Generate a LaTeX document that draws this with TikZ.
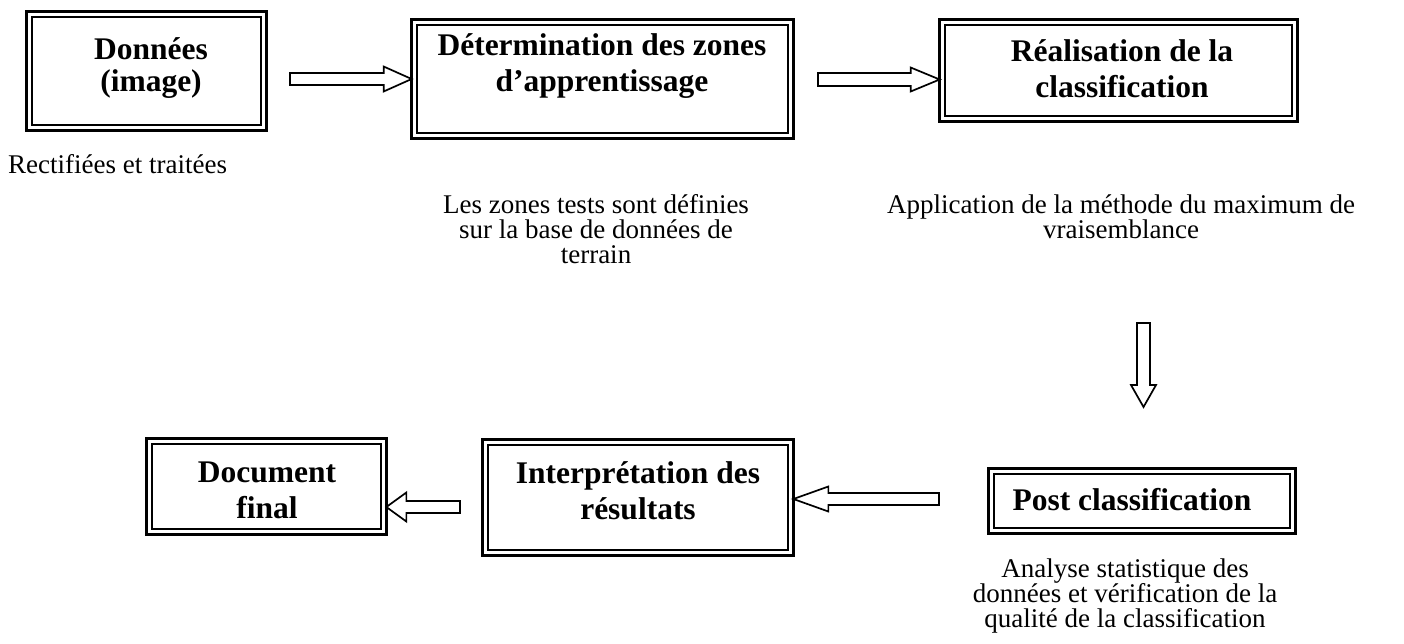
\documentclass[tikz,border=0pt]{standalone}
\usepackage{fontspec}
\setmainfont{Liberation Serif}
\usetikzlibrary{calc}
\begin{document}
\begin{tikzpicture}[x=1pt,y=1pt,
  box/.style={draw, line width=3.3pt, outer sep=0pt, inner sep=0pt},
  boxtext/.style={align=center, inner sep=0pt, font=\fontsize{31.5}{36}\selectfont\bfseries},
  innerline/.style={line width=1.6pt},
  note/.style={align=center, inner sep=0pt, font=\fontsize{27}{25}\selectfont},
  arrowline/.style={draw, line width=1.7pt, line join=miter},
  blockarrow/.style n args={3}{to path={
    ($(\tikztostart)!#1!90:(\tikztotarget)$) --
    ($($(\tikztotarget)!#3!(\tikztostart)$)!#1!90:(\tikztotarget)$) --
    ($($(\tikztotarget)!#3!(\tikztostart)$)!#2!90:(\tikztotarget)$) --
    (\tikztotarget) --
    ($($(\tikztotarget)!#3!(\tikztostart)$)!#2!-90:(\tikztotarget)$) --
    ($($(\tikztotarget)!#3!(\tikztostart)$)!#1!-90:(\tikztotarget)$) --
    ($(\tikztostart)!#1!-90:(\tikztotarget)$) -- cycle}}]
\useasboundingbox (0,0) rectangle (1404,-643);

% boxes
\node[box, minimum width=239.7pt, minimum height=118.7pt] (b1) at (146.5,-71) {};
\node[box, minimum width=381.7pt, minimum height=118.7pt] (b2) at (602.5,-79) {};
\node[box, minimum width=357.7pt, minimum height=101.7pt] (b3) at (1118.5,-70.5) {};
\node[box, minimum width=306.7pt, minimum height=64.7pt] (b4) at (1142,-501) {};
\node[box, minimum width=310.7pt, minimum height=115.7pt] (b5) at (638,-497.5) {};
\node[box, minimum width=239.7pt, minimum height=95.7pt] (b6) at (266.5,-486.5) {};

\foreach \n in {b1,b2,b3,b4,b5,b6}
  \draw[innerline] ([shift={(5.2pt,-5.2pt)}]\n.north west) rectangle ([shift={(-5.2pt,5.2pt)}]\n.south east);

% box texts
\node[boxtext, font=\fontsize{31.5}{32}\selectfont\bfseries] (t1) at (151,-68) {Données\\(image)};
\node[boxtext] (t2) at (602,-66) {Détermination des zones\\d’apprentissage};
\node[boxtext] (t3) at (1122,-69) {Réalisation de la\\classification};
\node[boxtext] (t4) at (1132,-500) {Post classification};
\node[boxtext] (t5) at (638,-491) {Interprétation des\\résultats};
\node[boxtext] (t6) at (267,-490) {Document\\final};

% notes
\node[note, anchor=west] (n1) at (8,-164) {Rectifiées et traitées};
\node[note] (n2) at (596,-229) {Les zones tests sont définies\\sur la base de données de\\terrain};
\node[note] (n3) at (1121,-217) {Application de la méthode du maximum de\\vraisemblance};
\node[note] (n4) at (1125,-596) {Analyse statistique des\\données et vérification de la\\qualité de la classification};

% arrows
\coordinate (a1) at (290,-79);
\coordinate (a2) at (818,-79.5);
\coordinate (a3) at (1143.5,-323);
\coordinate (a3t) at (1143.5,-407);
\coordinate (a4) at (939,-499);
\coordinate (a5) at (460,-507);

\draw[arrowline] (a1) to[blockarrow={6pt}{12.5pt}{28pt}] (b2.west);
\draw[arrowline] (a2) to[blockarrow={6.5pt}{12pt}{29pt}] (b3.west |- a2);
\draw[arrowline] (a3) to[blockarrow={6.5pt}{12.5pt}{22pt}] (a3t);
\draw[arrowline] (a4) to[blockarrow={6pt}{12.5pt}{35pt}] (b5.east |- a4);
\draw[arrowline] (a5) to[blockarrow={6pt}{14.5pt}{20pt}] (b6.east |- a5);
\end{tikzpicture}
\end{document}
